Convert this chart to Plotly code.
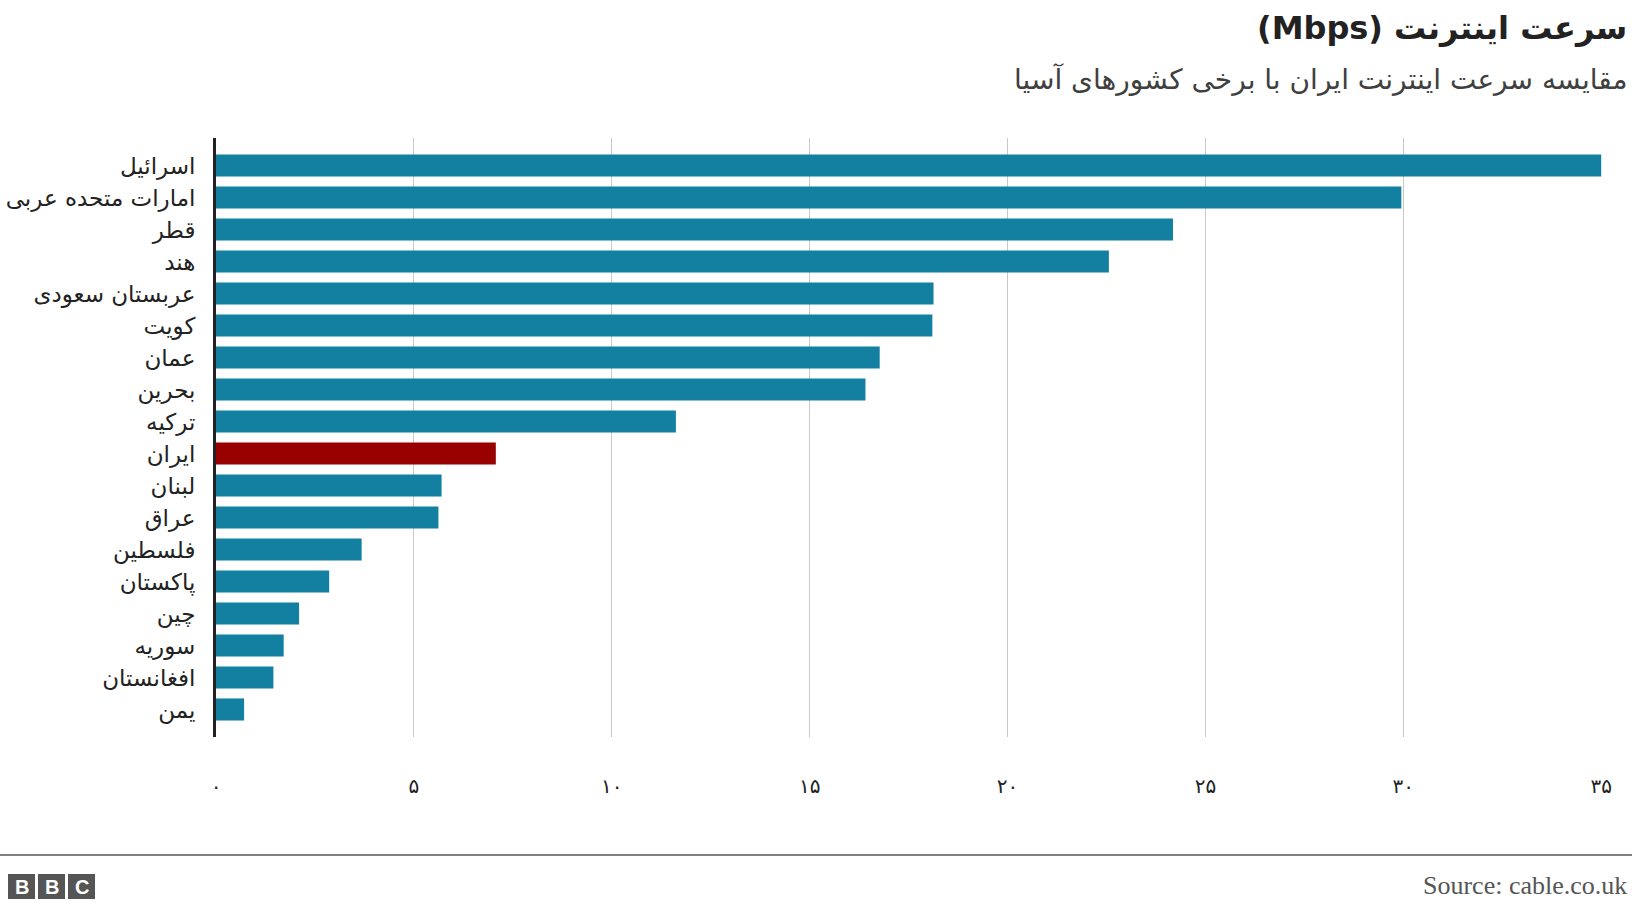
import plotly.graph_objects as go

# ---- data ----
countries = ["اسرائیل", "امارات متحده عربی", "قطر", "هند", "عربستان سعودی", "کویت",
             "عمان", "بحرین", "ترکیه", "ایران", "لبنان", "عراق", "فلسطین", "پاکستان",
             "چین", "سوریه", "افغانستان", "یمن"]
speeds = [35.0, 29.95, 24.18, 22.56, 18.13, 18.10, 16.77, 16.41, 11.62, 7.07,
          5.70, 5.62, 3.68, 2.86, 2.10, 1.71, 1.45, 0.71]
highlight = "ایران"
tick_values = [0, 5, 10, 15, 20, 25, 30, 35]
tick_labels = ["۰", "۵", "۱۰", "۱۵", "۲۰", "۲۵", "۳۰", "۳۵"]

title = "\u202bسرعت اینترنت (Mbps)\u202c"
subtitle = "مقایسه سرعت اینترنت ایران با برخی کشورهای آسیا"
source = "Source: cable.co.uk"

# ---- styles ----
BLUE = "#1380A1"
RED = "#990000"
W, H = 1632, 912
L, R, T, B = 216, 30, 138, 175
PW, PH = W - L - R, H - T - B
FONT = "DejaVu Sans"


def px(x):
    return (x - L) / PW


def py(y):
    return (H - B - y) / PH


colors = [RED if c == highlight else BLUE for c in countries]

fig = go.Figure(go.Bar(
    x=speeds, y=countries, orientation="h",
    marker=dict(color=colors, line=dict(width=0)),
    width=0.69, hoverinfo="x+y",
))

fig.update_layout(
    width=W, height=H,
    margin=dict(l=L, r=R, t=T, b=B, pad=0, autoexpand=False),
    paper_bgcolor="white", plot_bgcolor="white",
    font=dict(family=FONT, color="#222222"),
    showlegend=False,
    xaxis=dict(
        range=[0, 35.02], tickvals=tick_values, ticktext=tick_labels,
        showgrid=True, gridcolor="#c8c8c8", gridwidth=1.4, zeroline=False,
        ticks="outside", ticklen=31, tickcolor="rgba(0,0,0,0)",
        tickfont=dict(size=20, color="#222222", family=FONT),
        showline=False, fixedrange=True, automargin=False,
    ),
    yaxis=dict(
        type="category", range=[17.86, -0.86],
        showgrid=False, zeroline=False,
        showline=True, linecolor="#222222", linewidth=3,
        ticks="outside", ticklen=13, tickcolor="rgba(0,0,0,0)",
        tickfont=dict(size=23, color="#222222", family=FONT),
        fixedrange=True, automargin=False,
    ),
)

annotations = [
    dict(text="<b>" + title + "</b>", x=px(1629), y=py(28), xanchor="right", yanchor="middle",
         font=dict(size=32, color="#222222", family=FONT)),
    dict(text=subtitle, x=px(1629), y=py(80), xanchor="right", yanchor="middle",
         font=dict(size=28, color="#404040", family=FONT)),
    dict(text=source, x=px(1629), y=py(886), xanchor="right", yanchor="middle",
         font=dict(size=26, color="#555555", family="Liberation Serif")),
]
shapes = [
    dict(type="line", xref="paper", yref="paper", x0=px(0), x1=px(W), y0=py(855), y1=py(855),
         line=dict(color="#808080", width=2)),
]
for i, letter in enumerate(["B", "B", "C"]):
    x0 = 8 + i * 30
    shapes.append(dict(type="rect", xref="paper", yref="paper",
                       x0=px(x0), x1=px(x0 + 27), y0=py(899), y1=py(874),
                       fillcolor="#555555", line=dict(width=0)))
    annotations.append(dict(text="<b>" + letter + "</b>", x=px(x0 + 13.5), y=py(886.5),
                            xanchor="center", yanchor="middle",
                            font=dict(size=20, color="white", family="Liberation Sans")))

for a in annotations:
    a.update(xref="paper", yref="paper", showarrow=False)
fig.update_layout(annotations=annotations, shapes=shapes)

fig.write_html("out.html")
